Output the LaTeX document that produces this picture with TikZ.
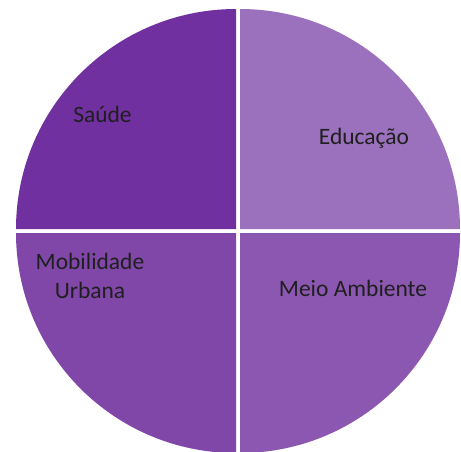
\documentclass[tikz,border=0pt]{standalone}
\usepackage{fontspec}
\setmainfont{Carlito}
\usepackage{tikz}
\definecolor{clrsaude}{HTML}{7030A0}
\definecolor{clreduc}{HTML}{9B70BC}
\definecolor{clrmobil}{HTML}{8047A8}
\definecolor{clrmeio}{HTML}{8B57B0}
\tikzset{rotulo/.style={font=\fontsize{23.5}{29}\selectfont, text=black!88, anchor=base, align=center, inner sep=0pt}}

\begin{document}
\begin{tikzpicture}[x=1pt,y=1pt]
\useasboundingbox (0,0) rectangle (461,-451);
% quadrants
\fill[clrsaude] (236,-229) -- (16,-229) arc (180:90:220) -- cycle;
\fill[clreduc] (240,-229) -- (240,-9) arc (90:0:220) -- cycle;
\fill[clrmobil] (236,-233) -- (16,-233) arc (180:270:220) -- cycle;
\fill[clrmeio] (240,-233) -- (460,-233) arc (0:-90:220) -- cycle;
% labels
\node[rotulo] (saude) at (102.5,-122) {Saúde};
\node[rotulo] (educ) at (364,-144) {Educação};
\node[rotulo] (mobil) at (90,-298) {Mobilidade\\Urbana};
\node[rotulo] (meio) at (353,-296) {Meio Ambiente};
\end{tikzpicture}
\end{document}
